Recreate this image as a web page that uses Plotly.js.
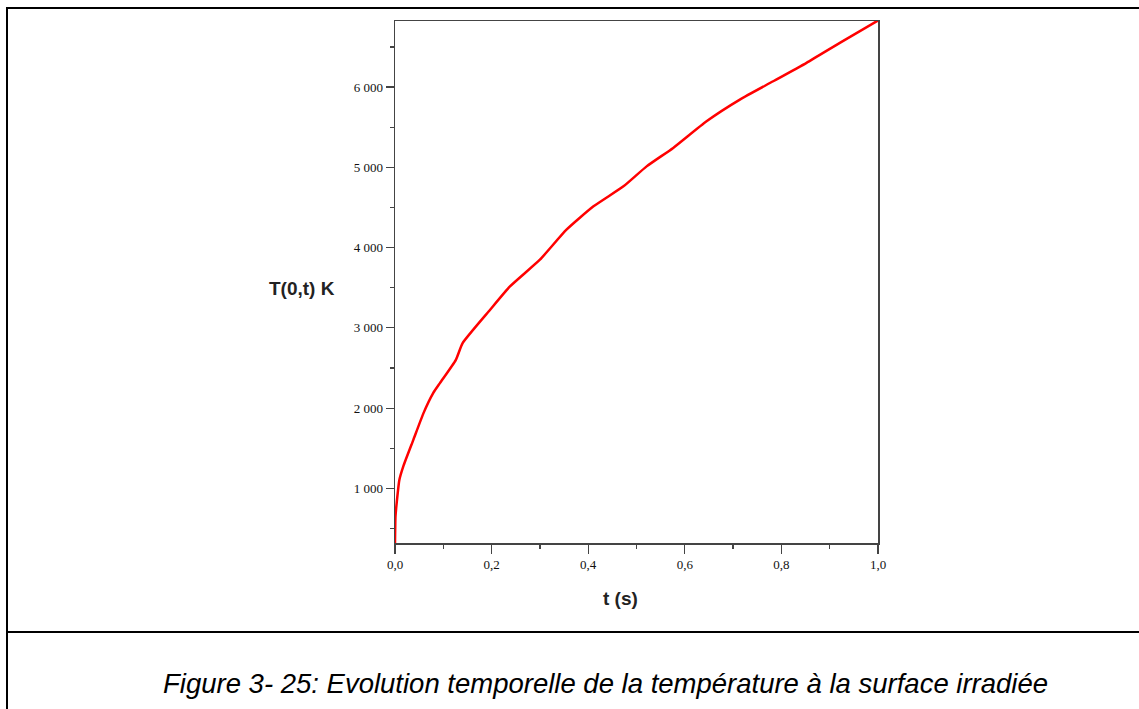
<!DOCTYPE html>
<html>
<head>
<meta charset="utf-8">
<script src="https://cdn.plot.ly/plotly-3.0.1.min.js"></script>
<style>
  html, body { margin: 0; padding: 0; background: #fff; }
  #chart { width: 1139px; height: 709px; }
</style>
</head>
<body>
<div id="chart"></div>
<script>
// Time (s)
const timeS = [0, 0.001, 0.0035, 0.009, 0.017, 0.038, 0.059, 0.079, 0.093, 0.126, 0.14, 0.197, 0.238, 0.300, 0.355, 0.411, 0.473, 0.521, 0.576, 0.645, 0.714, 0.783, 0.852, 0.921, 1.0];
// Surface temperature T(0,t) in K
const tempK = [320, 650, 820, 1106, 1272, 1605, 1938, 2187, 2312, 2602, 2810, 3226, 3516, 3849, 4223, 4514, 4763, 5012, 5242, 5574, 5844, 6072, 6302, 6551, 6829];
const xTickVals = [0, 0.2, 0.4, 0.6, 0.8, 1.0];
const yTickVals = [1000, 2000, 3000, 4000, 5000, 6000];

const L = 395, R = 878, T = 21, B = 543;
const W = R - L, H = B - T;
const px = x => (x - L) / W;
const py = y => (B - y) / H;

const axisFont = {family: 'Liberation Serif, Times New Roman, serif', size: 13, color: '#111'};

const data = [{
  x: timeS, y: tempK, type: 'scatter', mode: 'lines',
  line: {color: '#ff0000', width: 2.5, shape: 'spline', smoothing: 0.5},
  hoverinfo: 'skip'
}];

const layout = {
  width: 1139, height: 709,
  margin: {l: L, r: 1139 - R, t: T, b: 709 - B, pad: 0},
  paper_bgcolor: '#fff', plot_bgcolor: '#fff',
  showlegend: false,
  separators: ', ',
  xaxis: {
    range: [0, 1], tickvals: xTickVals, tickformat: '.1f',
    showgrid: false, zeroline: false,
    showline: true, linecolor: '#444', linewidth: 1.5, mirror: true,
    ticks: 'outside', ticklen: 9, tickwidth: 1.2, tickcolor: '#444',
    minor: {dtick: 0.1, tick0: 0, ticks: 'outside', ticklen: 4, tickwidth: 1.2, tickcolor: '#444'},
    tickfont: axisFont
  },
  yaxis: {
    range: [320, 6823], tickvals: yTickVals, separatethousands: true,
    showgrid: false, zeroline: false,
    showline: true, linecolor: '#444', linewidth: 1.5, mirror: true,
    ticks: 'outside', ticklen: 8, tickwidth: 1.2, tickcolor: '#444',
    minor: {dtick: 500, tick0: 0, ticks: 'outside', ticklen: 4, tickwidth: 1.2, tickcolor: '#444'},
    tickfont: axisFont
  },
  annotations: [
    {text: '<b>T(0,t) K</b>', xref: 'paper', yref: 'paper', x: px(302), y: py(288),
     showarrow: false, xanchor: 'center', yanchor: 'middle',
     font: {family: 'Liberation Sans, Arial, sans-serif', size: 19, color: '#222'}},
    {text: '<b>t (s)</b>', xref: 'paper', yref: 'paper', x: px(620), y: py(598),
     showarrow: false, xanchor: 'center', yanchor: 'middle',
     font: {family: 'Liberation Sans, Arial, sans-serif', size: 19, color: '#222'}},
    {text: '<i>Figure 3- 25: Evolution temporelle de la température à la surface irradiée</i>',
     xref: 'paper', yref: 'paper', x: px(605), y: py(683),
     showarrow: false, xanchor: 'center', yanchor: 'middle',
     font: {family: 'Liberation Sans, Arial, sans-serif', size: 27.5, color: '#000'}}
  ],
  shapes: [
    {type: 'line', xref: 'paper', yref: 'paper', x0: px(7), x1: px(7), y0: py(7), y1: py(709), line: {color: '#000', width: 2}},
    {type: 'line', xref: 'paper', yref: 'paper', x0: px(6), x1: px(1139), y0: py(8), y1: py(8), line: {color: '#000', width: 2}},
    {type: 'line', xref: 'paper', yref: 'paper', x0: px(6), x1: px(1139), y0: py(632), y1: py(632), line: {color: '#000', width: 2}}
  ]
};

Plotly.newPlot('chart', data, layout, {displayModeBar: false, staticPlot: true});
</script>
</body>
</html>
